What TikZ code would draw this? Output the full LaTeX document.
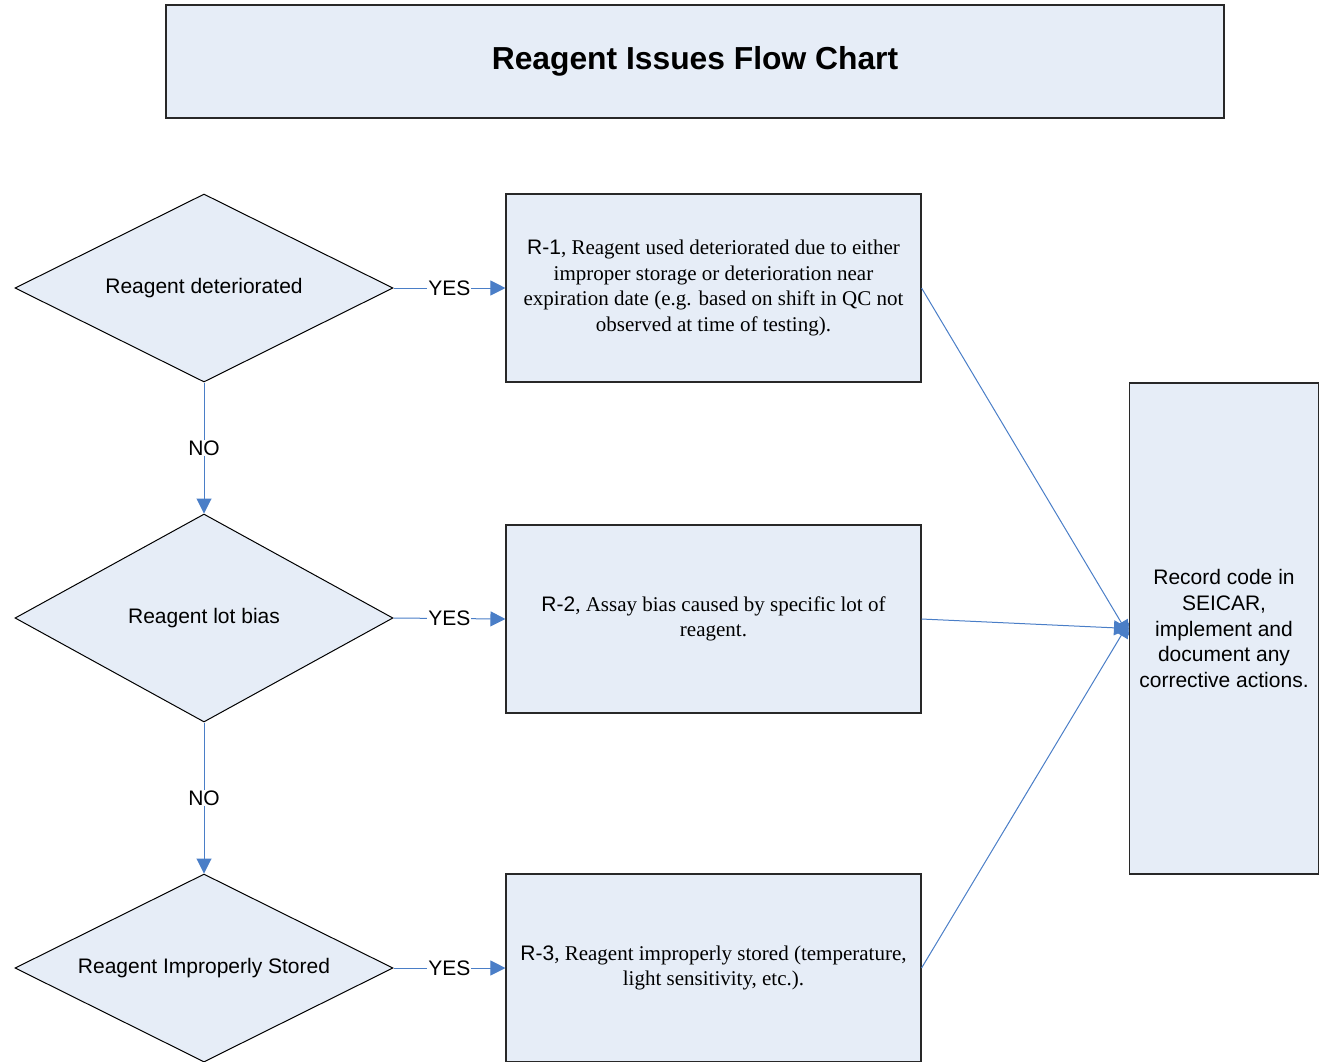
\documentclass[tikz,border=0pt]{standalone}
\usepackage{fontspec}
\setmainfont{Liberation Serif}
\setsansfont{Liberation Sans}
\usetikzlibrary{shapes.geometric,arrows.meta}
\definecolor{boxfill}{RGB}{230,237,247}
\definecolor{linkblue}{RGB}{74,126,199}
\definecolor{edgegray}{RGB}{40,40,40}
\begin{document}
\begin{tikzpicture}[x=1pt,y=-1pt,
  decision/.style={shape=diamond,draw=black,line width=1pt,fill=boxfill,
    inner sep=0pt,aspect=2,minimum width=378pt,
    font=\sffamily\fontsize{21}{25.7}\selectfont},
  codebox/.style={draw=edgegray,line width=1.1pt,fill=boxfill,
    minimum width=415pt,minimum height=188pt,inner sep=0pt,align=center,
    font=\rmfamily\fontsize{21}{25.7}\selectfont},
  link/.style={draw=linkblue,line width=1pt,
    -{Triangle[length=15pt,width=15pt]}},
  lbl/.style={fill=white,inner sep=1pt,text=black,
    font=\sffamily\fontsize{21}{25}\selectfont}]
\useasboundingbox (0,0) rectangle (1321,1061);

% title
\node[draw=edgegray,line width=1.1pt,fill=boxfill,minimum width=1058pt,
  minimum height=113pt,inner sep=0pt,
  font=\sffamily\bfseries\fontsize{31.8}{36}\selectfont]
  (title) at (695,61.5) {Reagent Issues Flow Chart};

% decisions
\node[decision,minimum height=188pt] (d1) at (204,288) {Reagent deteriorated};
\node[decision,minimum height=208pt] (d2) at (204,618) {Reagent lot bias};
\node[decision,minimum height=188pt] (d3) at (204,968) {Reagent Improperly Stored};

% reason codes
\node[codebox] (r1) at (713.5,288) {{\sffamily R-1}, Reagent used deteriorated due to either\\
  improper storage or deterioration near\\
  expiration date (e.g. based on shift in QC not\\
  observed at time of testing).};
\node[codebox] (r2) at (713.5,619) {{\sffamily R-2}, Assay bias caused by specific lot of\\ reagent.};
\node[codebox] (r3) at (713.5,968) {{\sffamily R-3}, Reagent improperly stored (temperature,\\ light sensitivity, etc.).};

% action box
\node[draw=edgegray,line width=1.1pt,fill=boxfill,minimum width=189pt,
  minimum height=491pt,inner sep=0pt,align=center,
  font=\sffamily\fontsize{21}{25.8}\selectfont]
  (act) at (1224,628.5) {Record code in\\ SEICAR,\\ implement and\\ document any\\ corrective actions.};

% yes branches
\draw[link] (d1.east) -- node[lbl]{YES} (r1.west);
\draw[link] (d2.east) -- node[lbl]{YES} (r2.west);
\draw[link] (d3.east) -- node[lbl]{YES} (r3.west);

% no branches
\draw[link] (d1.south) -- node[lbl]{NO} (d2.north);
\draw[link] (d2.south) -- node[lbl]{NO} (d3.north);

% into the action box
\coordinate (a1) at ([yshift=-7pt]act.west);
\coordinate (a2) at (act.west);
\coordinate (a3) at ([yshift=6pt]act.west);
\draw[link] (r1.east) -- (a1);
\draw[link] (r2.east) -- (a2);
\draw[link] (r3.east) -- (a3);
\end{tikzpicture}
\end{document}
